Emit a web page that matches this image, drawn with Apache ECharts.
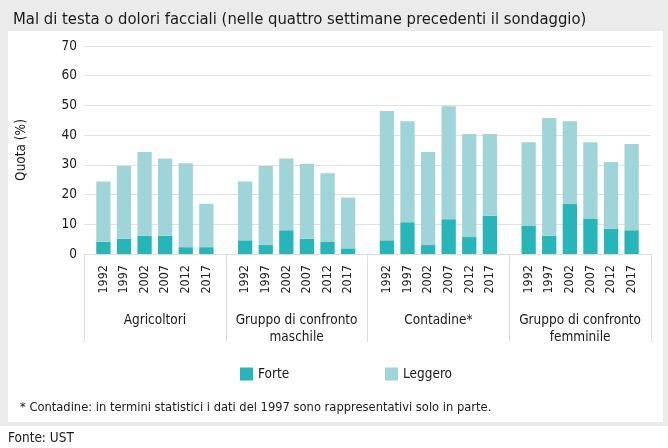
<!DOCTYPE html>
<html>
<head>
<meta charset="utf-8">
<script src="https://cdn.jsdelivr.net/npm/echarts@6/dist/echarts.min.js"></script>
<style>
html,body{margin:0;padding:0;background:#fff;}
#chart{width:668px;height:448px;}
</style>
</head>
<body>
<div id="chart"></div>
<script>
var years = ['1992', '1997', '2002', '2007', '2012', '2017'];
var groups = ['Agricoltori', 'Gruppo di confronto\nmaschile', 'Contadine*', 'Gruppo di confronto\nfemminile'];
var yTicks = [0, 10, 20, 30, 40, 50, 60, 70];

var forteAgricoltori = [4.1, 5.1, 6.2, 6.2, 2.3, 2.3];
var leggeroAgricoltori = [20.3, 24.5, 28.1, 25.9, 28.2, 14.6];
var forteMaschile = [4.6, 3.0, 8.0, 5.1, 4.2, 1.9];
var leggeroMaschile = [19.8, 26.6, 24.1, 25.3, 23.0, 17.1];
var forteContadine = [4.6, 10.7, 3.0, 11.7, 5.7, 12.9];
var leggeroContadine = [43.5, 34.0, 31.3, 38.0, 34.7, 27.5];
var forteFemminile = [9.6, 6.2, 16.8, 11.8, 8.5, 8.0];
var leggeroFemminile = [28.0, 39.6, 27.9, 25.8, 22.5, 29.0];

var FONT = '"Liberation Sans Narrow", "DejaVu Sans Condensed", sans-serif';
var colForte = '#26b5b8';
var colLeggero = '#9fd5d8';

var series = [];
years.forEach(function (yr, k) {
  series.push({
    name: 'Forte', type: 'bar', stack: 's' + k,
    barWidth: 14.3, barGap: '44%',
    itemStyle: { color: colForte },
    data: [forteAgricoltori[k], forteMaschile[k], forteContadine[k], forteFemminile[k]],
    label: {
      show: true, position: 'bottom', distance: 11, rotate: 90,
      align: 'right', verticalAlign: 'middle',
      formatter: function () { return yr; },
      fontFamily: FONT, fontSize: 12.5, color: '#222'
    }
  });
  series.push({
    name: 'Leggero', type: 'bar', stack: 's' + k,
    barWidth: 14.3, barGap: '44%',
    itemStyle: { color: colLeggero },
    data: [leggeroAgricoltori[k], leggeroMaschile[k], leggeroContadine[k], leggeroFemminile[k]]
  });
});

var chart = echarts.init(document.getElementById('chart'), null, { renderer: 'canvas' });
chart.setOption({
  animation: false,
  textStyle: { fontFamily: FONT },
  title: {
    text: 'Mal di testa o dolori facciali (nelle quattro settimane precedenti il sondaggio)',
    left: 8, top: 6,
    textStyle: { fontFamily: FONT, fontSize: 16.5, fontWeight: 'normal', color: '#1a1a1a' }
  },
  graphic: [
    { type: 'rect', z: -10, shape: { x: 0, y: 0, width: 668, height: 426 }, style: { fill: '#ebebeb' } },
    { type: 'rect', z: -9, shape: { x: 8, y: 31, width: 655, height: 391 }, style: { fill: '#ffffff' } },
    { type: 'text', x: 20, y: 408, style: { text: '* Contadine: in termini statistici i dati del 1997 sono rappresentativi solo in parte.', font: '12.8px ' + FONT, fill: '#1a1a1a', verticalAlign: 'middle' } },
    { type: 'text', x: 8, y: 438, style: { text: 'Fonte: UST', font: '13.5px ' + FONT, fill: '#1a1a1a', verticalAlign: 'middle' } }
  ],
  legend: [
    { data: ['Forte'], left: 240, top: 367, itemWidth: 13, itemHeight: 13, icon: 'rect', padding: 0,
      textStyle: { fontFamily: FONT, fontSize: 13.5, color: '#1a1a1a' } },
    { data: ['Leggero'], left: 385, top: 367, itemWidth: 13, itemHeight: 13, icon: 'rect', padding: 0,
      textStyle: { fontFamily: FONT, fontSize: 13.5, color: '#1a1a1a' } }
  ],
  grid: { left: 84, right: 17, top: 46, bottom: 194 },
  xAxis: {
    type: 'category', data: groups,
    axisLine: { lineStyle: { color: '#dddddd', width: 1 } },
    axisTick: { show: true, interval: 0, length: 88, lineStyle: { color: '#dddddd', width: 1 } },
    axisLabel: { interval: 0, margin: 58, fontFamily: FONT, fontSize: 13.5, lineHeight: 17, color: '#1a1a1a' }
  },
  yAxis: {
    type: 'value', min: yTicks[0], max: yTicks[yTicks.length - 1], interval: 10,
    name: 'Quota (%)', nameLocation: 'middle', nameGap: 56,
    nameTextStyle: { fontFamily: FONT, fontSize: 13.5, color: '#1a1a1a' },
    axisLine: { show: false }, axisTick: { show: false },
    axisLabel: { margin: 7, fontFamily: FONT, fontSize: 13.5, color: '#1a1a1a' },
    splitLine: { lineStyle: { color: '#e2e2e2', width: 1.2 } }
  },
  series: series
});
</script>
</body>
</html>
